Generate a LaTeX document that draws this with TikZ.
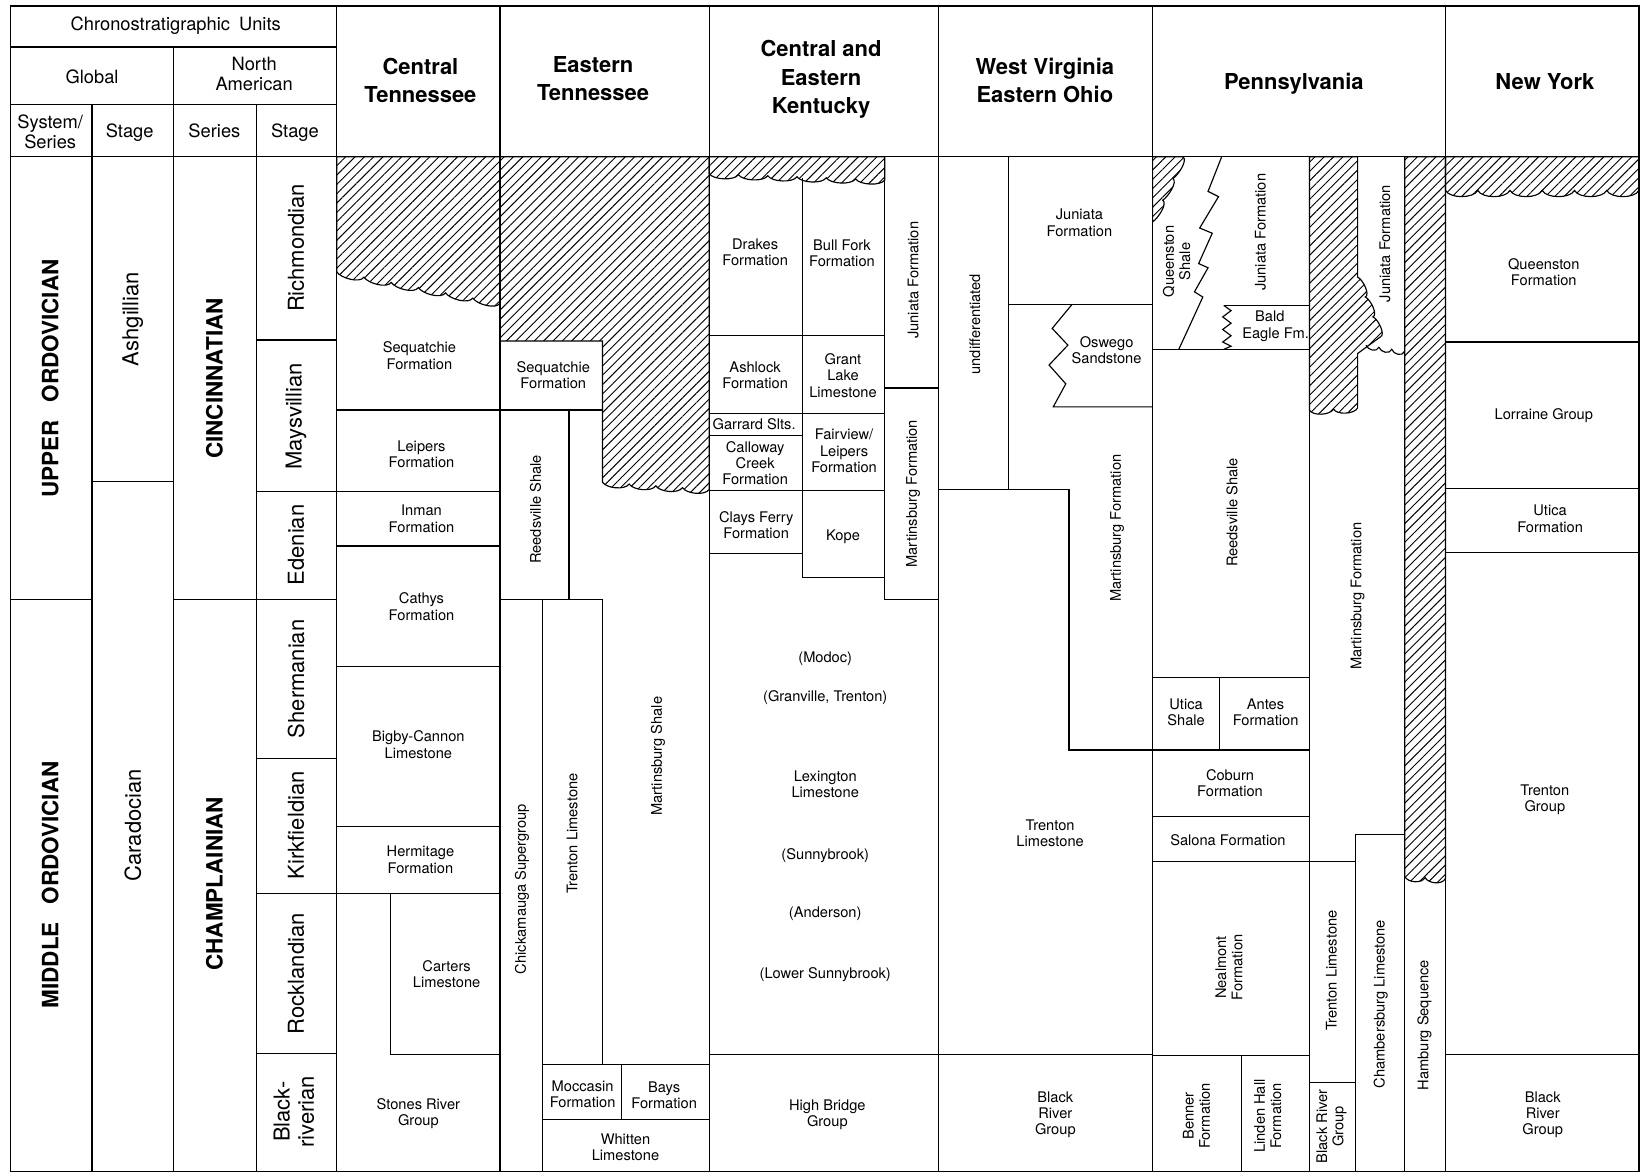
\documentclass[tikz,border=0pt]{standalone}
\usepackage{fontspec}
\setmainfont{TeX Gyre Heros}
\usetikzlibrary{patterns.meta}

\tikzset{
  hatch/.style={pattern={Lines[angle=45,distance=6.3pt,line width=0.9pt]}},
  fm/.style={font=\fontsize{14}{15.5}\selectfont, align=center, inner sep=0pt},
  rfm/.style={fm, rotate=90},
  hdr/.style={font=\fontsize{17.5}{19}\selectfont, align=center, inner sep=0pt},
  reg/.style={font=\bfseries\fontsize{21}{27}\selectfont, align=center, inner sep=0pt},
  stg/.style={font=\fontsize{21}{23}\selectfont, align=center, rotate=90, inner sep=0pt},
  sys/.style={font=\bfseries\fontsize{21.5}{23}\selectfont, rotate=90, inner sep=0pt}
}

\begin{document}
\begin{tikzpicture}[x=1pt,y=-1pt,line width=1.1pt]
\useasboundingbox (0,0) rectangle (1568,1122);

% gaps in the record
\draw[hatch] (322,150) -- (478,150) -- (478,290) foreach \k in {1,...,6} {.. controls +(-4,6) and +(4,6) .. ++(-26,-5)} -- cycle;
\draw[hatch] (478,150) -- (678,150) -- (678,468) foreach \k in {1,...,4} {.. controls +(-4,6) and +(4,6) .. ++(-25.5,-1.75)} -- (576,326) -- (478,326) -- cycle;
\draw[hatch] (678,150) -- (846,150) -- (846,172) foreach \k in {1,...,6} {.. controls +(-4,6) and +(4,6) .. ++(-28,-1)} -- cycle;
\draw[hatch] (1102,150) -- (1131,150) foreach \k in {1,2,3} {.. controls +(5,3) and +(5,-3) .. ++(-9.67,20.7)} -- cycle;
\draw[hatch] (1252,150) -- (1298,150) -- (1298,265) foreach \k in {1,2,3} {.. controls +(5,2) and +(5,-2) .. ++(7.3,19)} -- (1298,338) -- (1298,390) foreach \k in {1,2} {.. controls +(-3,6) and +(3,6) .. ++(-23,1)} -- cycle;
\draw[hatch] (1343,150) -- (1382,150) -- (1382,840) foreach \k in {1,2} {.. controls +(-3,6) and +(3,6) .. ++(-19.5,-1)} -- cycle;
\draw[hatch] (1382,150) -- (1567,150) -- (1567,182) foreach \k in {1,...,6} {.. controls +(-4,8) and +(4,8) .. ++(-30.83,0)} -- cycle;
\draw (1306,330) foreach \k in {1,2,3} {.. controls +(2,5) and +(-2,5) .. ++(12.3,2)};

% frame and header
\draw[line width=1.5pt] (10,6) rectangle (1567,1120);
\draw (10,45) -- (322,45) (10,100) -- (322,100) (10,150) -- (1567,150);
\foreach \x in {322,478,678,897,1102,1382} \draw (\x,6) -- (\x,1120);
\foreach \x in {88,245} \draw (\x,100) -- (\x,1120);
\draw (166,45) -- (166,1120);

% chronostratigraphic units
\draw (10,573) -- (88,573) (88,460) -- (166,460) (166,573) -- (245,573);
\foreach \y in {325,470,573,725,854,1007} \draw (245,\y) -- (322,\y);

% Tennessee
\foreach \y in {392,470,522,637,790,854} \draw (322,\y) -- (478,\y);
\draw (373,854) -- (373,1008) -- (478,1008);
\draw (478,392) -- (576,392) (544,392) -- (544,573) (478,573) -- (576,573);
\draw (519,573) -- (519,1120) (576,573) -- (576,1018);
\draw (519,1018) -- (678,1018) (594,1018) -- (594,1070) (519,1070) -- (678,1070);

% Kentucky
\draw (678,321) -- (846,321) (678,395) -- (846,395) (678,469) -- (846,469);
\draw (678,416) -- (767,416) (678,529) -- (767,529);
\draw (767,170) -- (767,552) -- (846,552);
\draw (846,150) -- (846,573) -- (897,573) (846,371) -- (897,371);
\draw (678,1008) -- (897,1008);

% West Virginia
\draw (964,150) -- (964,468) (964,291) -- (1102,291);
\draw (897,468) -- (1022,468) -- (1022,717) -- (1102,717);
\draw (1025,291) -- (1006,314) -- (1021,330) -- (1003,349) -- (1019,367) -- (1007,389) -- (1102,389);
\draw (897,1008) -- (1102,1008);

% Pennsylvania
\foreach \x in {1252,1343} \draw (\x,150) -- (\x,1120);
\draw (1168,150) -- (1155,183) -- (1165,188) -- (1147,218) -- (1159,223) -- (1146,252) -- (1155,256) -- (1142,279) -- (1150,284) -- (1139,308) -- (1127,334);
\draw (1170,292) -- (1252,292);
\draw (1170,292) -- (1177,297) -- (1169,303) -- (1177,309) -- (1169,315) -- (1177,321) -- (1169,327) -- (1177,331) -- (1170,334);
\draw (1102,334) -- (1252,334);
\foreach \y in {648,717,781,1009} \draw (1102,\y) -- (1252,\y);
\draw (1102,824) -- (1296,824) (1166,648) -- (1166,717) (1187,1009) -- (1187,1120);
\draw (1252,1035) -- (1296,1035) (1343,798) -- (1296,798) -- (1296,1120);

% New York
\foreach \y in {327,467,528,1008} \draw (1382,\y) -- (1567,\y);

% header texts
\node[hdr] (chu) at (168,25) {Chronostratigraphic\hspace{0.5em}Units};
\node[hdr] (glb) at (88,73) {Global};
\node[hdr] (nam) at (243,71) {North\\American};
\node[hdr] (sys) at (48,126) {System/\\Series};
\node[hdr] (gst) at (124,127) {Stage};
\node[hdr] (ser) at (205,125) {Series};
\node[hdr] (nst) at (282,127) {Stage};
\node[reg] (ctn) at (402,77) {Central\\Tennessee};
\node[reg] (etn) at (567,75) {Eastern\\Tennessee};
\node[reg] (kty) at (785,76) {Central and\\Eastern\\Kentucky};
\node[reg] (wvo) at (999,77) {West Virginia\\Eastern Ohio};
\node[reg] (pen) at (1237,80) {Pennsylvania};
\node[reg] (nyk) at (1477,78) {New York};

\node[sys] (upo) at (48,362) {UPPER\hspace{0.8em}ORDOVICIAN};
\node[sys] (mdo) at (48,846) {MIDDLE\hspace{0.8em}ORDOVICIAN};
\node[sys] (cin) at (205,362) {CINCINNATIAN};
\node[sys] (chm) at (205,845) {CHAMPLAINIAN};
\node[stg] (ash) at (127,305) {Ashgillian};
\node[stg] (car) at (127,789) {Caradocian};
\node[stg] (ric) at (283,237) {Richmondian};
\node[stg] (may) at (283,398) {Maysvillian};
\node[stg] (ede) at (283,521) {Edenian};
\node[stg] (she) at (283,649) {Shermanian};
\node[stg] (kir) at (283,789) {Kirkfieldian};
\node[stg] (roc) at (283,931) {Rocklandian};
\node[stg] (blr) at (281,1063) {Black-\\riverian};

% Central Tennessee
\node[fm] (ctSeq) at (401,340) {Sequatchie\\Formation};
\node[fm] (ctLei) at (403,434) {Leipers\\Formation};
\node[fm] (ctInm) at (403,496) {Inman\\Formation};
\node[fm] (ctCat) at (403,580) {Cathys\\Formation};
\node[fm] (ctBig) at (400,712) {Bigby-Cannon\\Limestone};
\node[fm] (ctHer) at (402,822) {Hermitage\\Formation};
\node[fm] (ctCar) at (427,931) {Carters\\Limestone};
\node[fm] (ctSto) at (400,1065) {Stones River\\Group};

% Eastern Tennessee
\node[fm] (etSeq) at (529,359) {Sequatchie\\Formation};
\node[rfm] (etRee) at (512,487) {Reedsville Shale};
\node[rfm] (etMar) at (629,723) {Martinsburg Shale};
\node[rfm] (etChi) at (499,850) {Chickamauga Supergroup};
\node[rfm] (etTre) at (547,797) {Trenton Limestone};
\node[fm] (etMoc) at (557,1046) {Moccasin\\Formation};
\node[fm] (etBay) at (635,1047) {Bays\\Formation};
\node[fm] (etWhi) at (598,1097) {Whitten\\Limestone};

% Kentucky
\node[fm] (kyDra) at (722,241) {Drakes\\Formation};
\node[fm] (kyBul) at (805,242) {Bull Fork\\Formation};
\node[rfm] (kyJun) at (873,268) {Juniata Formation};
\node[fm] (kyAsh) at (722,359) {Ashlock\\Formation};
\node[fm] (kyGra) at (806,359) {Grant\\Lake\\Limestone};
\node[rfm] (kyMar) at (873,472) {Martinsburg Formation};
\node[fm] (kyGar) at (721,406) {Garrard Slts.};
\node[fm] (kyCal) at (722,443) {Calloway\\Creek\\Formation};
\node[fm] (kyFai) at (807,431) {Fairview/\\Leipers\\Formation};
\node[fm] (kyCla) at (723,502) {Clays Ferry\\Formation};
\node[fm] (kyKop) at (806,513) {Kope};
\node[fm] (kyMod) at (789,630) {(Modoc)};
\node[fm] (kyGrv) at (789,667) {(Granville, Trenton)};
\node[fm] (kyLex) at (789,750) {Lexington\\Limestone};
\node[fm] (kySun) at (789,818) {(Sunnybrook)};
\node[fm] (kyAnd) at (789,874) {(Anderson)};
\node[fm] (kyLow) at (789,932) {(Lower Sunnybrook)};
\node[fm] (kyHig) at (791,1066) {High Bridge\\Group};

% West Virginia
\node[rfm] (wvUnd) at (932,310) {undifferentiated};
\node[fm] (wvJun) at (1032,213) {Juniata\\Formation};
\node[fm] (wvOsw) at (1058,335) {Oswego\\Sandstone};
\node[rfm] (wvMar) at (1068,505) {Martinsburg Formation};
\node[fm] (wvTre) at (1004,797) {Trenton\\Limestone};
\node[fm] (wvBla) at (1009,1066) {Black\\River\\Group};

% Pennsylvania
\node[rfm] (paQue) at (1125,250) {Queenston\\Shale};
\node[rfm] (paJun) at (1205,222) {Juniata Formation};
\node[fm] (paBal) at (1214,312) {Bald\\\hspace{0.8em}Eagle Fm.};
\node[rfm] (paRee) at (1178,490) {Reedsville Shale};
\node[fm] (paUti) at (1134,681) {Utica\\Shale};
\node[fm] (paAnt) at (1210,681) {Antes\\Formation};
\node[fm] (paCob) at (1176,749) {Coburn\\Formation};
\node[fm] (paSal) at (1174,803) {Salona Formation};
\node[rfm] (paNea) at (1175,925) {Nealmont\\Formation};
\node[rfm] (paBen) at (1144,1067) {Benner\\Formation};
\node[rfm] (paLin) at (1212,1067) {Linden Hall\\Formation};
\node[rfm] (paBla) at (1273,1077) {Black River\\Group};
\node[rfm] (paTre) at (1273,928) {Trenton Limestone};
\node[rfm] (paMar) at (1298,570) {Martinsburg Formation};
\node[rfm] (paJu2) at (1324,233) {Juniata Formation};
\node[rfm] (paCha) at (1320,960) {Chambersburg Limestone};
\node[rfm] (paHam) at (1362,980) {Hamburg Sequence};

% New York
\node[fm] (nyQue) at (1476,260) {Queenston\\Formation};
\node[fm] (nyLor) at (1476,397) {Lorraine Group};
\node[fm] (nyUti) at (1482,496) {Utica\\Formation};
\node[fm] (nyTre) at (1477,765) {Trenton\\Group};
\node[fm] (nyBla) at (1475,1066) {Black\\River\\Group};
\end{tikzpicture}
\end{document}
